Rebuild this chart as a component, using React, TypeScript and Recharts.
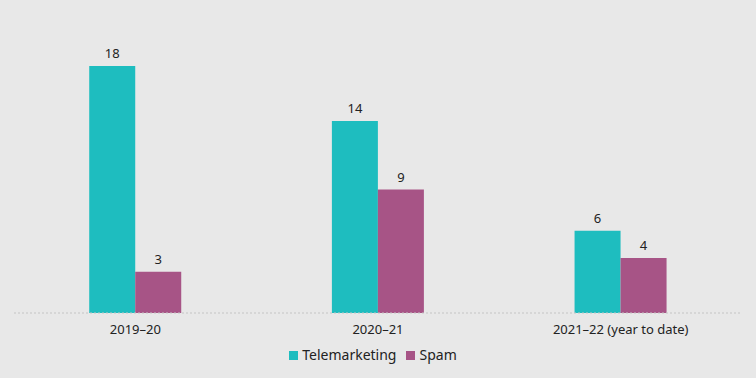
import React from "react";
import { BarChart, Bar, XAxis, YAxis, Legend, LabelList } from "recharts";

const categories = ["2019–20", "2020–21", "2021–22 (year to date)"];
const telemarketing = [18, 14, 6];
const spam = [3, 9, 4];

const data = categories.map((period, i) => ({
  period,
  telemarketing: telemarketing[i],
  spam: spam[i],
}));

const TEAL = "#1ebdbf";
const PURPLE = "#a75486";
const FONT = "'Noto Sans', 'Open Sans', sans-serif";
const seriesOrder = ["Telemarketing", "Spam"];

export default function App() {
  return (
    <div
      style={{
        position: "absolute",
        top: 0,
        left: 0,
        width: 756,
        height: 378,
        background: "#e8e8e8",
        fontFamily: FONT,
      }}
    >
      <BarChart
        width={756}
        height={378}
        data={data}
        margin={{ top: 66, right: 14, bottom: 8, left: 14 }}
        barCategoryGap="31%"
        barGap={0}
      >
        <XAxis
          dataKey="period"
          tickLine={false}
          axisLine={{ stroke: "#c4c4c4", strokeDasharray: "2 2" }}
          tick={{ fill: "#222", fontSize: 13, fontFamily: FONT }}
          tickMargin={6}
          height={30}
        />
        <YAxis hide domain={[0, 18]} />
        <Legend
          iconType="square"
          iconSize={9}
          verticalAlign="bottom"
          height={27}
          itemSorter={(item: any) => seriesOrder.indexOf(item.value)}
          formatter={(value) => <span style={{ color: "#222", fontSize: 14 }}>{value}</span>}
        />
        <Bar dataKey="telemarketing" name="Telemarketing" fill={TEAL} isAnimationActive={false}>
          <LabelList dataKey="telemarketing" position="top" offset={8} fill="#222" fontSize={13} />
        </Bar>
        <Bar dataKey="spam" name="Spam" fill={PURPLE} isAnimationActive={false}>
          <LabelList dataKey="spam" position="top" offset={8} fill="#222" fontSize={13} />
        </Bar>
      </BarChart>
    </div>
  );
}
